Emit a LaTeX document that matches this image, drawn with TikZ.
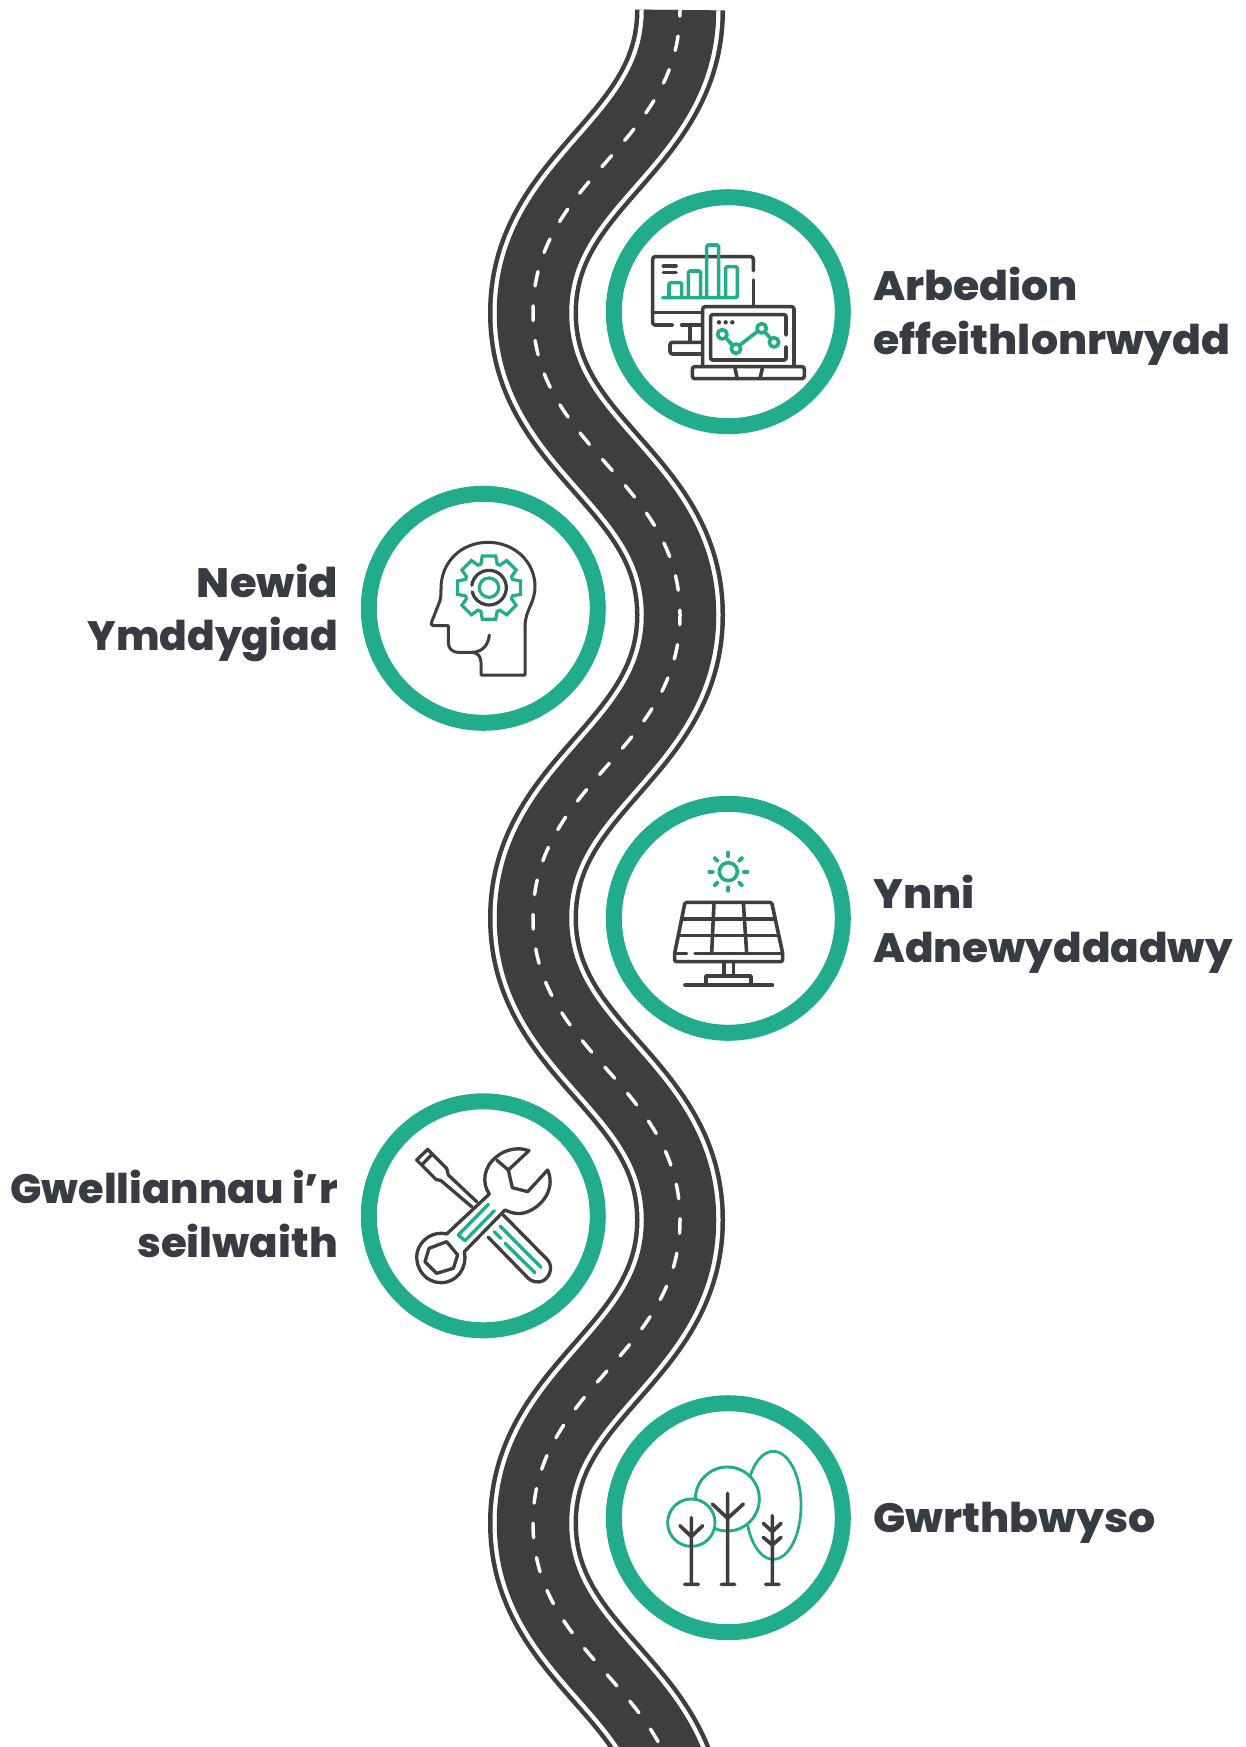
\documentclass[tikz,border=0pt]{standalone}
\usepackage{fontspec}
\usetikzlibrary{calc}
\newfontfamily\labfont[FakeStretch=1.04,BoldFont={Poppins ExtraBold}]{Poppins}
\definecolor{roadc}{HTML}{3E3E3E}
\definecolor{teal1}{HTML}{21AD8B}
\definecolor{txtc}{HTML}{383B41}
\newcommand{\sxl}[2]{\scalebox{#1}[1]{#2}}
\def\roadpath{(680,10) .. controls (680,145) and (533,178) .. (533,313)
 .. controls (533,448) and (680,480) .. (680,615)
 .. controls (680,750) and (533,783) .. (533,918)
 .. controls (533,1053) and (680,1085) .. (680,1220)
 .. controls (680,1355) and (533,1388) .. (533,1523)
 .. controls (533,1658) and (680,1690) .. (680,1825)}
\tikzset{
 ringnode/.style={circle,draw=teal1,line width=16pt,minimum size=229pt,inner sep=0pt,outer sep=0pt,fill=white},
 lab/.style={font=\labfont\bfseries\fontsize{41pt}{53.6pt}\selectfont,text=txtc,inner sep=0pt},
 labl/.style={lab,anchor=west,align=left},
 labr/.style={lab,anchor=east,align=right},
 dk/.style={draw=roadc,line width=3.6pt,line cap=round,line join=round},
 gn/.style={draw=teal1,line width=3.6pt,line cap=round,line join=round},
 ico/.style={x=0.33333pt,y=-0.33333pt}
}
\begin{document}
\begin{tikzpicture}[x=1pt,y=-1pt]
\useasboundingbox (0,0) rectangle (1246,1747);
% road
\begin{scope}
\clip (0,10) rectangle (1246,1747);
\draw[roadc,line width=90pt] \roadpath;
\draw[white,line width=81pt] \roadpath;
\draw[roadc,line width=72.5pt] \roadpath;
\draw[white,line width=3.5pt,line cap=round,dash pattern=on 14.7pt off 20pt,dash phase=8.5pt] \roadpath;
\end{scope}
% rings
\node[ringnode] (r1) at (728.3,311.7) {};
\node[ringnode] (r2) at (483.3,608.3) {};
\node[ringnode] (r3) at (728.3,918.3) {};
\node[ringnode] (r4) at (483.3,1215.8) {};
\node[ringnode] (r5) at (728.3,1517.7) {};
% labels
\node[labl] (t1) at (873,316.5) {Arbedion\\effeithlonrwydd};
\node[labr] (t2) at (338,613) {\sxl{1.015}{Newid}\\\sxl{.957}{Ymddygiad}};
\node[labl] (t3) at (873,924) {Ynni\\\sxl{.988}{Adnewyddadwy}};
\node[labr] (t4) at (338,1214) {\sxl{.973}{Gwelliannau i’r}\\\sxl{.984}{seilwaith}};
\node[labl] (t5) at (873,1522.5) {Gwrthbwyso};
% icon 1
\begin{scope}[shift={(600,180)},ico]
\draw[dk,rounded corners=2.5pt] (305,435)--(245,435);
\draw[dk,rounded corners=2.5pt] (218,435)--(158,435)--(158,230)--(460,230)--(460,272);
\draw[dk] (460,300)--(460,375);
\draw[dk] (158,398)--(305,398);
\draw[dk] (270,435)--(270,487);
\draw[dk,rounded corners=2.5pt] (305,487)--(210,487)--(210,522)--(305,522);
\draw[dk,rounded corners=2.5pt] (308,560)--(308,380)--(582,380)--(582,560);
\draw[dk,rounded corners=2pt] (558,465)--(558,404)--(332,404)--(332,540)--(558,540)--(558,500);
\fill[roadc] (357,427) circle[radius=2.2pt] (377,427) circle[radius=2.2pt] (397,427) circle[radius=2.2pt];
\draw[dk,rounded corners=2.5pt] (277,560) rectangle (613,596);
\draw[dk] (405,565)--(412,596) (487,565)--(480,596);
\draw[dk] (190,258)--(228,258) (190,278)--(228,278);
\draw[gn,rounded corners=1.5pt] (207,353)--(207,308)--(245,308)--(245,353);
\draw[gn,rounded corners=1.5pt] (265,353)--(265,273)--(302,273)--(302,353);
\draw[gn,rounded corners=1.5pt] (320,353)--(320,195)--(356,195)--(356,353);
\draw[gn,rounded corners=1.5pt] (377,353)--(377,260)--(412,260)--(412,353)--(188,353);
\draw[gn] (377,473)--(398,496) (420,495)--(474,453) (495,457)--(513,476);
\draw[gn] (367,463) circle[radius=4.7pt] (408,506) circle[radius=4.7pt] (485,445) circle[radius=4.7pt] (522,487) circle[radius=4.7pt];
\end{scope}
% icon 2
\begin{scope}[shift={(355,480)},ico]
\draw[dk,line width=3pt] (510,585)--(378,585)--(378,548) .. controls (378,530) and (368,517) .. (350,517) --(312,517) .. controls (290,517) and (280,505) .. (280,487)--(280,437)--(236,437) .. controls (229,437) and (227,433) .. (230,426)--(255,362) .. controls (258,352) and (258,345) .. (258,325) .. controls (258,245) and (320,187) .. (399,187) .. controls (478,187) and (540,245) .. (540,320) .. controls (540,370) and (510,390) .. (510,440) --cycle;
\draw[dk,line width=3pt] (403,465) .. controls (400,495) and (382,517) .. (350,517);
\begin{scope}[shift={(402,323)}]
\draw[gn,line width=3.2pt,line join=miter] (-19:75) foreach \a in {0,45,...,315} {--(\a-19:75)--(\a-12:97)--(\a+12:97)--(\a+19:75)} --cycle;
\draw[gn,line width=3.2pt] (0,0) circle[radius=9.7pt];
\draw[dk,line width=3.2pt] (-172:52) arc[start angle=-172,end angle=166,radius=52];
\end{scope}
\end{scope}
% icon 3
\begin{scope}[shift={(600,790)},ico]
\draw[gn] (385,245) circle[radius=9pt];
\foreach \a in {0,45,...,315} \draw[gn,line width=4pt] ($(385,245)+(\a:47)$)--($(385,245)+(\a:57)$);
\draw[dk,rounded corners=1.5pt] (224,490)--(255,337)--(515,337)--(548,490)--(548,515)--(224,515)--cycle;
\draw[dk] (224,490)--(260,490) (285,490)--(548,490);
\draw[dk] (247,387)--(525,387) (237,437)--(535,437);
\draw[dk] (342,337)--(335,490) (430,337)--(440,490);
\draw[dk] (372,515)--(372,558) (400,515)--(400,558);
\draw[dk] (318,585)--(318,558)--(453,558)--(453,585);
\draw[dk] (255,585)--(517,585);
\end{scope}
% icon 4
\begin{scope}[shift={(355,1090)},ico]
\draw[dk,line width=3.3pt] (350,350)--(258,272)--(243,268)--(185,210)--(218,178)--(275,235)--(280,255)--(365,335);
\draw[dk,line width=3.3pt] (200,225)--(232,192);
\draw[dk,line width=3.3pt] (445,375)--(578,510) .. controls (595,530) and (585,560) .. (565,572) .. controls (550,580) and (530,575) .. (520,565)--(400,442);
\draw[gn,line width=3.3pt] (435,408)--(558,532) (450,460)--(540,548) (418,425)--(437,445);
\draw[dk,line width=3.3pt] (275,432)--(403,312) .. controls (380,280) and (385,230) .. (425,200) .. controls (450,178) and (490,170) .. (522,182)--(460,240)--(472,293)--(518,305)--(578,240) .. controls (600,290) and (570,340) .. (525,362) .. controls (500,375) and (475,372) .. (450,360)--(328,485);
\draw[dk,line width=3.3pt] (425,210)--(460,240);
\draw[dk,line width=3.3pt] (275,432) .. controls (240,422) and (195,445) .. (186,490) .. controls (180,540) and (215,578) .. (258,578) .. controls (305,578) and (338,535) .. (328,485);
\draw[dk,line width=3.3pt] (222,475)--(275,455)--(308,495)--(295,535)--(245,550)--(210,515)--cycle;
\draw[gn,line width=3.3pt] (400,343)--(310,435)--(330,452)--(418,362);
\end{scope}
% icon 5
\begin{scope}[shift={(600,1390)},ico]
\draw[gn,line width=2.7pt] (520,346) ellipse[x radius=83,y radius=162];
\draw[gn,line width=2.9pt,fill=white] (382,327) circle[radius=32pt];
\draw[gn,line width=2.9pt,fill=white] (274,398) circle[radius=23.7pt];
\draw[dk] (274,383)--(274,583) (240,407)--(274,440)--(308,407) (254,583)--(295,583);
\draw[dk] (383,310)--(383,583) (337,342)--(383,385)--(430,342) (364,583)--(404,583);
\draw[dk] (517,377)--(517,583) (490,400)--(517,425)--(543,400) (490,442)--(517,465)--(543,442) (497,583)--(537,583);
\end{scope}
\end{tikzpicture}
\end{document}
